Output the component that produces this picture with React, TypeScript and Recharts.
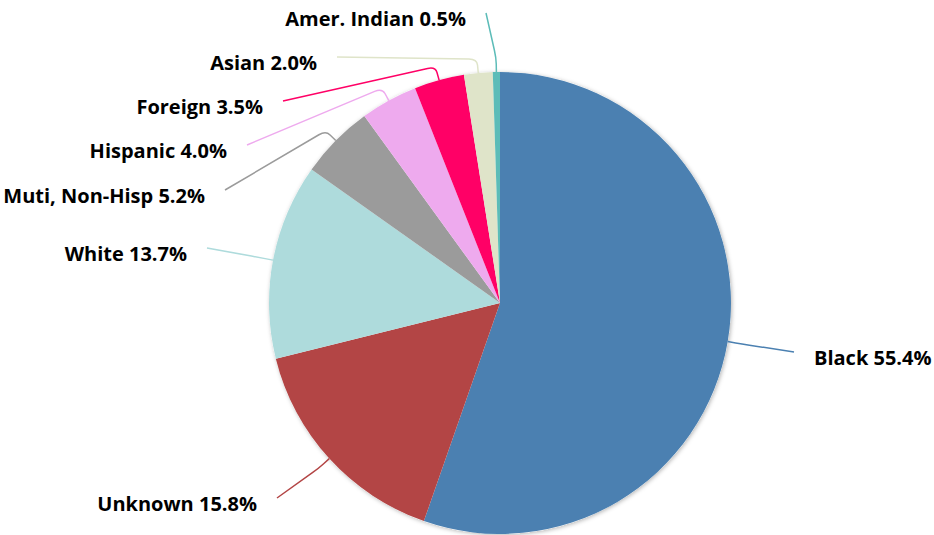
import { PieChart, Pie, Cell } from "recharts";

const categories = [
  "Black",
  "Unknown",
  "White",
  "Muti, Non-Hisp",
  "Hispanic",
  "Foreign",
  "Asian",
  "Amer. Indian",
];
const shares = [55.4, 15.8, 13.7, 5.2, 4.0, 3.5, 2.0, 0.5];
const colors = [
  "#4b80b1",
  "#b34545",
  "#aedbdc",
  "#9b9b9b",
  "#eeaaee",
  "#ff0066",
  "#dfe4c9",
  "#5cbcb8",
];

// where each leader line ends (label placement, picked by hand to avoid overlap)
const labelEnds = [
  [794, 352],
  [277, 498],
  [207, 248],
  [225, 190],
  [247, 145],
  [283, 101],
  [337, 57],
  [486, 13],
];

const data = categories.map((name, i) => ({ name, value: shares[i] }));

const RADIAN = Math.PI / 180;

const renderLabel = (props: any) => {
  const { cx, cy, midAngle, outerRadius, index } = props;
  const cos = Math.cos(-midAngle * RADIAN);
  const sin = Math.sin(-midAngle * RADIAN);
  const p0 = [cx + outerRadius * cos, cy + outerRadius * sin];
  const p1 = [cx + (outerRadius + 14) * cos, cy + (outerRadius + 14) * sin];
  const [ex, ey] = labelEnds[index];
  // rounded corner at p1
  const dx = ex - p1[0];
  const dy = ey - p1[1];
  const len = Math.hypot(dx, dy) || 1;
  const a = [p1[0] + (dx / len) * 8, p1[1] + (dy / len) * 8];
  const b = [p1[0] - cos * 6, p1[1] - sin * 6];
  const d = `M${ex},${ey} L${a[0]},${a[1]} Q${p1[0]},${p1[1]} ${b[0]},${b[1]} L${p0[0]},${p0[1]}`;
  const right = ex > cx;
  return (
    <g key={`lbl-${index}`}>
      <path d={d} stroke={colors[index]} strokeWidth={1.5} fill="none" />
      <text
        x={right ? ex + 20 : ex - 20}
        y={ey + 5}
        textAnchor={right ? "start" : "end"}
        dominantBaseline="central"
        fill="#000"
        style={{ fontFamily: "Open Sans", fontWeight: 700, fontSize: 20 }}
      >
        {`${categories[index]} ${shares[index].toFixed(1)}%`}
      </text>
    </g>
  );
};

const App = () => {
  return (
    <div style={{ position: "absolute", left: 0, top: 0 }}>
      <PieChart width={934} height={535} margin={{ top: 0, right: 0, bottom: 0, left: 0 }}>
        <defs>
          <filter id="pieShadow" x="-10%" y="-10%" width="120%" height="120%">
            <feDropShadow dx="1" dy="1" stdDeviation="2" floodColor="#000" floodOpacity="0.3" />
          </filter>
        </defs>
        <Pie
          data={[{ name: "bg", value: 1 }]}
          dataKey="value"
          cx={500}
          cy={303}
          outerRadius={231}
          stroke="none"
          isAnimationActive={false}
          label={false}
          labelLine={false}
        >
          <Cell fill="#fff" filter="url(#pieShadow)" />
        </Pie>
        <Pie
          data={data}
          dataKey="value"
          cx={500}
          cy={303}
          outerRadius={231}
          startAngle={90}
          endAngle={-270}
          stroke="none"
          isAnimationActive={false}
          label={renderLabel}
          labelLine={false}
        >
          {data.map((d, i) => (
            <Cell key={d.name} fill={colors[i]} />
          ))}
        </Pie>
      </PieChart>
    </div>
  );
};

export default App;
